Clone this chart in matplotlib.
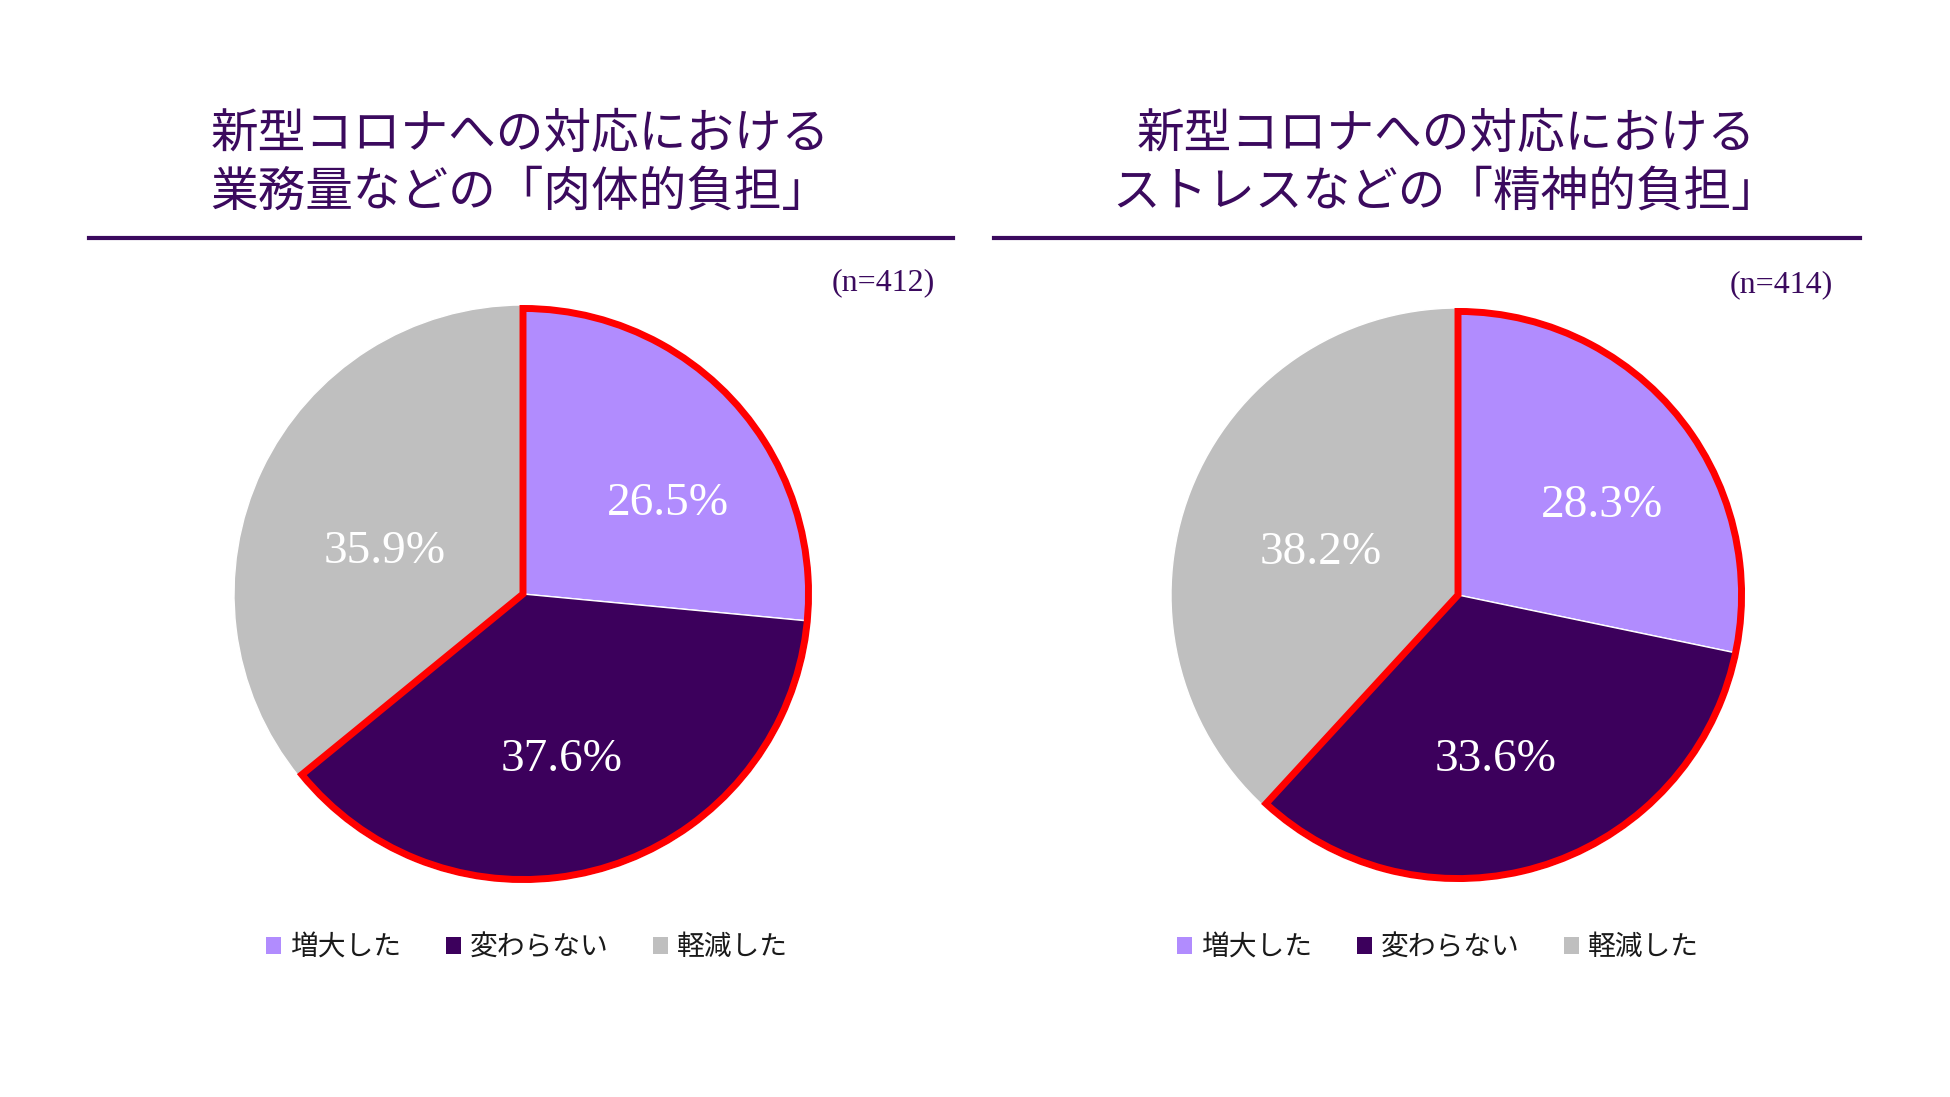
import numpy as np
import matplotlib.pyplot as plt
from matplotlib.patches import Wedge, Patch
from matplotlib.lines import Line2D

# data
categories = ['増大した', '変わらない', '軽減した']
physical = [26.5, 37.6, 35.9]
mental = [28.3, 33.6, 38.2]
sample_sizes = [412, 414]
titles = ['新型コロナへの対応における\n業務量などの「肉体的負担」',
          '新型コロナへの対応における\nストレスなどの「精神的負担」']

colors = ['#B18CFE', '#3C005C', '#BFBFBF']
title_color = '#3B0A5E'
cjk = ['Noto Sans CJK JP', 'DejaVu Sans']
serif = ['Liberation Serif', 'DejaVu Serif']

# where the percentage labels sit inside the pie (angle in degrees, fraction of radius)
label_angles = [32, -77, 163]
label_dist = [0.59, 0.59, 0.50]

W, H = 1950, 1097
fig = plt.figure(figsize=(W / 100, H / 100), dpi=100)


def px_axes(cx, cy, r):
    return fig.add_axes([(cx - r) / W, 1 - (cy + r) / H, 2 * r / W, 2 * r / H])


def draw_pie(ax, values, n, title, title_x, line_x0, line_x1, n_pos, legend_x):
    ax.pie(values, colors=colors, startangle=90, counterclock=False,
           wedgeprops=dict(edgecolor='white', linewidth=1))
    total = sum(values)
    for v, a, d in zip(values, label_angles, label_dist):
        t = np.deg2rad(a)
        ax.text(d * np.cos(t), d * np.sin(t), f'{v / total * 100:.1f}%',
                ha='center', va='center', color='white', fontsize=34, family=serif)
    # red outline around the first two slices
    span = (values[0] + values[1]) / total * 360
    ax.add_patch(Wedge((0, 0), 0.988, 90 - span, 90, fill=False,
                       edgecolor='#FF0000', linewidth=5, joinstyle='miter', zorder=5))
    ax.set_xlim(-1, 1)
    ax.set_ylim(-1, 1)
    ax.set_aspect('equal')
    ax.axis('off')

    fig.text(title_x / W, 1 - 163 / H, title, ha='center', va='center', fontsize=34.3,
             color=title_color, family=cjk, linespacing=1.22)
    fig.add_artist(Line2D([line_x0 / W, line_x1 / W], [1 - 238 / H, 1 - 238 / H],
                          color=title_color, linewidth=3))
    fig.text(n_pos[0] / W, 1 - n_pos[1] / H, f'(n={n})', ha='right', va='center',
             fontsize=23, family=serif, color=title_color)

    handles = [Patch(facecolor=c, edgecolor='none') for c in colors]
    leg = fig.legend(handles, categories, loc='center', ncol=3,
                     bbox_to_anchor=(legend_x / W, 1 - 947 / H), frameon=False,
                     prop={'family': cjk, 'size': 20}, handlelength=0.55, handleheight=0.55,
                     handletextpad=0.32, columnspacing=1.6, borderpad=0)
    for t in leg.get_texts():
        t.set_color('#1A1A1A')


ax1 = px_axes(523, 594, 289)
draw_pie(ax1, physical, sample_sizes[0], titles[0], 520, 89, 953, (935, 283), 527)

ax2 = px_axes(1458, 595, 287)
draw_pie(ax2, mental, sample_sizes[1], titles[1], 1446, 994, 1860, (1833, 285), 1438)

fig.savefig('out.png', dpi=100, facecolor='white')
